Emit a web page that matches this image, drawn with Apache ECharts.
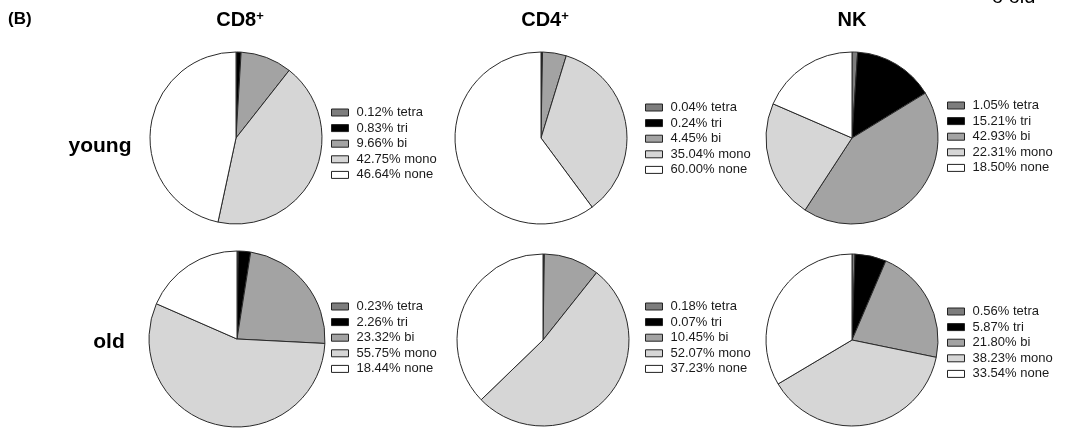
<!DOCTYPE html>
<html>
<head>
<meta charset="utf-8">
<script src="https://cdn.jsdelivr.net/npm/echarts@6/dist/echarts.min.js"></script>
<style>
  html, body { margin: 0; padding: 0; background: #fff; }
  #chart { width: 1066px; height: 428px; }
</style>
</head>
<body>
<div id="chart"></div>
<script>
// Cytokine polyfunctionality: share of cells producing 4/3/2/1/0 functions
const categories = ['tetra', 'tri', 'bi', 'mono', 'none'];
const cellTypes = ['CD8', 'CD4', 'NK'];
const cellSup = ['+', '+', ''];
const ageGroups = ['young', 'old'];

const cd8Young = [0.12, 0.83, 9.66, 42.75, 46.64];
const cd4Young = [0.04, 0.24, 4.45, 35.04, 60.00];
const nkYoung  = [1.05, 15.21, 42.93, 22.31, 18.50];
const cd8Old   = [0.23, 2.26, 23.32, 55.75, 18.44];
const cd4Old   = [0.18, 0.07, 10.45, 52.07, 37.23];
const nkOld    = [0.56, 5.87, 21.80, 38.23, 33.54];

const sliceColors = ['#7d7d7d', '#000000', '#a3a3a3', '#d6d6d6', '#ffffff'];

// grid of panels: rows = age groups, columns = cell types
const panels = [
  { values: cd8Young, center: [236, 138], radius: 86, legend: [326, 101] },
  { values: cd4Young, center: [541, 138], radius: 86, legend: [640, 96] },
  { values: nkYoung,  center: [852, 138], radius: 86, legend: [942, 94] },
  { values: cd8Old,   center: [237, 339], radius: 88, legend: [326, 295] },
  { values: cd4Old,   center: [543, 340], radius: 86, legend: [640, 295] },
  { values: nkOld,    center: [852, 340], radius: 86, legend: [942, 300] }
];

const labelOf = (v, c) => v.toFixed(2) + '% ' + c;

const series = panels.map((p, i) => ({
  type: 'pie',
  name: 'panel' + i,
  center: p.center,
  radius: p.radius,
  startAngle: 90,
  clockwise: true,
  silent: true,
  animation: false,
  label: { show: false },
  labelLine: { show: false },
  itemStyle: { borderColor: '#2a2a2a', borderWidth: 1 },
  data: p.values.map((v, k) => ({
    name: labelOf(v, categories[k]),
    value: v,
    itemStyle: { color: sliceColors[k] }
  }))
}));

const legends = panels.map((p) => ({
  orient: 'vertical',
  left: p.legend[0],
  top: p.legend[1],
  icon: 'rect',
  itemWidth: 17,
  itemHeight: 7,
  itemGap: 2.6,
  selectedMode: false,
  itemStyle: { borderColor: '#222', borderWidth: 1 },
  textStyle: { fontFamily: 'Liberation Sans, Arial, sans-serif', fontSize: 13, color: '#1a1a1a', padding: [0, 0, 0, 3] },
  data: p.values.map((v, k) => labelOf(v, categories[k]))
}));

const headerX = [240, 545, 852];
const rowLabelY = [146, 342];
const rowLabelX = [100, 109];

const graphics = [
  { type: 'text', left: 8, top: 11,
    style: { text: '(B)', font: 'bold 17px "Liberation Sans", Arial, sans-serif', fill: '#000' } },
  { type: 'text', x: 992, y: -13,
    style: { text: 'o old', font: '20px "Liberation Sans", Arial, sans-serif', fill: '#000' } }
];
cellTypes.forEach((c, i) => {
  graphics.push({
    type: 'text', x: headerX[i], y: 20,
    style: {
      text: '{a|' + c + '}' + (cellSup[i] ? '{s|' + cellSup[i] + '}' : ''),
      align: 'center', verticalAlign: 'middle',
      rich: {
        a: { font: 'bold 20px "Liberation Sans", Arial, sans-serif', fill: '#000' },
        s: { font: 'bold 13px "Liberation Sans", Arial, sans-serif', fill: '#000', verticalAlign: 'top', padding: [0, 0, 8, 0] }
      }
    }
  });
});
ageGroups.forEach((a, i) => {
  graphics.push({
    type: 'text', x: rowLabelX[i], y: rowLabelY[i],
    style: { text: a, align: 'center', verticalAlign: 'middle',
      font: 'bold 21px "Liberation Sans", Arial, sans-serif', fill: '#000' }
  });
});

const chart = echarts.init(document.getElementById('chart'), null, { renderer: 'canvas' });
chart.setOption({
  backgroundColor: '#fff',
  animation: false,
  legend: legends,
  series: series,
  graphic: graphics
});
</script>
</body>
</html>
